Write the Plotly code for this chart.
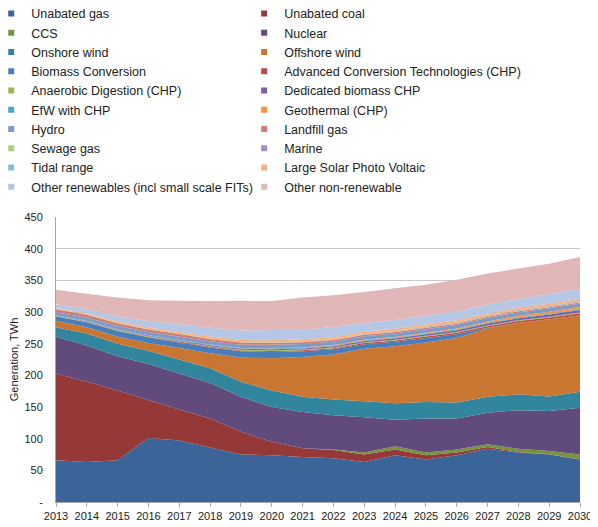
import plotly.graph_objects as go

years = list(range(2013, 2031))

# generation by technology, TWh
unabated_gas = [66, 63, 66, 101, 97, 86, 75, 74, 71, 69, 63, 74, 67, 74, 84, 78, 75, 67]
unabated_coal = [137, 127, 110, 60, 49, 46, 36, 21, 14, 13, 12, 9, 7, 4, 3, 1, 0.5, 0]
ccs = [0, 0, 0, 0, 0, 0, 0, 0, 0, 1, 3, 5, 4, 5, 4, 5, 5, 8]
nuclear = [58, 57, 54, 57, 57, 56, 55, 55, 57, 54, 56, 42, 54, 49, 50, 61, 63, 74]
onshore_wind = [15, 19, 20, 21, 22, 23, 24, 26, 24, 25, 25, 26, 26, 25, 25, 25, 23, 25]
offshore_wind = [10, 10, 11, 12, 18, 24, 38, 51, 63, 71, 83, 90, 94, 102, 108, 113, 122, 121]
biomass_conversion = [7, 8, 9, 9, 9, 9, 10, 10, 9, 8, 7, 7, 7, 6, 1, 0, 0, 0]
act_chp = [0.2, 0.3, 0.5, 0.7, 0.9, 1.0, 1.2, 1.3, 1.5, 1.7, 1.9, 2.0, 2.2, 2.3, 2.5, 2.7, 2.8, 3.0]
ad_chp = [0.5, 0.7, 0.9, 1.0, 1.0, 1.1, 1.1, 1.2, 1.2, 1.2, 1.2, 1.2, 1.2, 1.2, 1.2, 1.2, 1.2, 1.2]
dedicated_biomass_chp = [0.5, 0.6, 0.8, 1.0, 1.2, 1.4, 1.5, 1.7, 1.8, 2.0, 2.0, 2.2, 2.4, 2.6, 3.0, 3.2, 3.5, 4.0]
efw_chp = [0.3, 0.4, 0.5, 0.6, 0.7, 0.8, 0.9, 1.0, 1.0, 1.0, 1.0, 1.1, 1.1, 1.2, 1.2, 1.2, 1.3, 1.3]
geothermal_chp = [0, 0, 0, 0, 0.1, 0.2, 0.3, 0.5, 0.6, 0.8, 1.0, 1.2, 1.5, 1.8, 2.2, 2.6, 3.0, 3.5]
hydro = [5.0, 5.0, 5.0, 5.0, 5.2, 5.3, 5.3, 5.4, 5.4, 5.4, 5.5, 5.5, 5.5, 5.5, 5.5, 5.5, 5.5, 5.5]
landfill_gas = [5.0, 4.8, 4.5, 4.2, 4.0, 3.7, 3.4, 3.1, 2.9, 2.7, 2.5, 2.3, 2.1, 2.0, 1.8, 1.7, 1.6, 1.5]
sewage_gas = [0.7, 0.7, 0.7, 0.7, 0.7, 0.7, 0.7, 0.7, 0.7, 0.7, 0.7, 0.7, 0.7, 0.7, 0.8, 0.8, 0.8, 0.8]
marine = [0, 0, 0, 0, 0, 0, 0, 0.1, 0.2, 0.3, 0.4, 0.5, 0.6, 0.7, 0.8, 0.9, 1.0, 1.2]
tidal_range = [0, 0, 0, 0, 0, 0, 0, 0, 0, 0, 0, 0.3, 0.3, 0.3, 0.3, 0.3, 0.3, 0.3]
large_solar_pv = [1.0, 1.5, 2.0, 2.5, 2.8, 3.0, 3.2, 3.4, 3.5, 3.5, 3.5, 3.5, 3.5, 3.5, 3.5, 3.5, 3.5, 3.5]
other_renewables = [6, 7, 8, 10, 12, 14, 15, 16, 15, 16, 14, 14, 14, 14, 14, 14, 15, 16]
other_non_renewable = [23, 24, 30, 33, 37, 42, 47, 46, 51, 50, 49, 50, 49, 50, 49, 48, 48, 50]

y_ticks = [0, 50, 100, 150, 200, 250, 300, 350, 400, 450]
y_tick_labels = ["-", "50", "100", "150", "200", "250", "300", "350", "400", "450"]

series = [
    ("Unabated gas", unabated_gas, "#3B6598"),
    ("Unabated coal", unabated_coal, "#953838"),
    ("CCS", ccs, "#77933C"),
    ("Nuclear", nuclear, "#614B7C"),
    ("Onshore wind", onshore_wind, "#31859C"),
    ("Offshore wind", offshore_wind, "#C87631"),
    ("Biomass Conversion", biomass_conversion, "#4A7EBB"),
    ("Advanced Conversion Technologies (CHP)", act_chp, "#BE4B48"),
    ("Anaerobic Digestion (CHP)", ad_chp, "#98B954"),
    ("Dedicated biomass CHP", dedicated_biomass_chp, "#7D60A0"),
    ("EfW with CHP", efw_chp, "#46AAC5"),
    ("Geothermal (CHP)", geothermal_chp, "#F69240"),
    ("Hydro", hydro, "#7E9BC8"),
    ("Landfill gas", landfill_gas, "#CB7D7C"),
    ("Sewage gas", sewage_gas, "#B3CC82"),
    ("Marine", marine, "#A08FC0"),
    ("Tidal range", tidal_range, "#7DC0D6"),
    ("Large Solar Photo Voltaic", large_solar_pv, "#F8B07C"),
    ("Other renewables (incl small scale FITs)", other_renewables, "#B5C7E5"),
    ("Other non-renewable", other_non_renewable, "#E0B6B6"),
]

fig = go.Figure()

# stacked areas
for name, values, color in series:
    fig.add_trace(go.Scatter(
        x=years, y=values, name=name,
        mode="none", stackgroup="gen", fillcolor=color,
        showlegend=False, hoverinfo="name+y",
    ))

# small square legend keys, two columns (alternating like the original)
for i, (name, values, color) in enumerate(series):
    fig.add_trace(go.Scatter(
        x=[None], y=[None], name=name, mode="markers",
        marker=dict(symbol="square", size=6, color=color),
        legend="legend" if i % 2 == 0 else "legend2",
    ))

legend_style = dict(
    orientation="v", traceorder="normal",
    xanchor="left", yanchor="top", y=1.7657,
    font=dict(size=12.5, color="#222222"),
    bgcolor="rgba(0,0,0,0)",
)

# page body adds 8px around the div, so the figure is 8px smaller
fig.update_layout(
    width=590, height=519,
    margin=dict(l=48, r=18, t=209, b=25, autoexpand=False),
    paper_bgcolor="white", plot_bgcolor="white",
    font=dict(family="Liberation Sans, Arial, sans-serif", size=11, color="#222222"),
    showlegend=True,
    legend=dict(x=-0.1236, **legend_style),
    legend2=dict(x=0.3591, **legend_style),
    xaxis=dict(
        range=[2013, 2030], tickmode="linear", dtick=1,
        showgrid=False, showline=True, linecolor="#A6A6A6", linewidth=1,
        ticks="outside", ticklen=4, tickcolor="#A6A6A6",
        tickfont=dict(size=11), fixedrange=True,
    ),
    yaxis=dict(
        range=[0, 450],
        tickvals=y_ticks, ticktext=y_tick_labels,
        showgrid=True, gridcolor="#C8C8C8", gridwidth=1,
        showline=True, linecolor="#A6A6A6", linewidth=1,
        zeroline=False, tickfont=dict(size=11), ticklabelstandoff=10,
        title=dict(text="Generation, TWh", font=dict(size=11)),
        fixedrange=True,
    ),
)

fig.write_html("out.html")
